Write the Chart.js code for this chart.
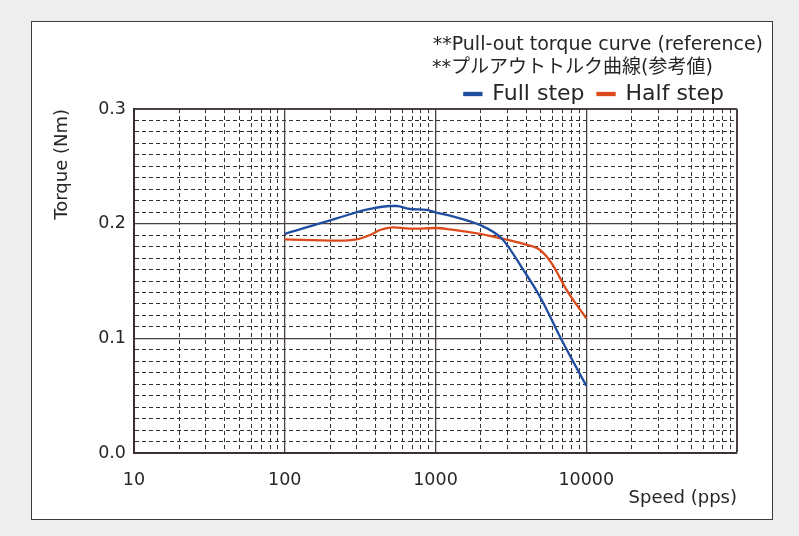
<!DOCTYPE html>
<html lang="ja">

<head>
    <meta charset="UTF-8">
    <title>Pull-out torque curve</title>
    <script src="https://cdn.jsdelivr.net/npm/chart.js"></script>
    <style>
        body {
            margin: 0;
            background: #eeeeee;
        }
        #frame {
            position: absolute;
            left: 31px;
            top: 21px;
            width: 740px;
            height: 497px;
            background: #ffffff;
            border: 1.5px solid #3c3c3c;
        }
        #myChart {
            position: absolute;
            left: 0;
            top: 0;
        }
    </style>
</head>

<body>

    <div id="frame"></div>
    <canvas id="myChart" width="799" height="536"></canvas>

    <script>
        // 讀圖估計的資料 (speed pps / torque Nm)
        const fullSpeed  = [100, 221, 368, 499, 552, 678, 875, 1000, 1248, 1973, 2750, 3827, 4934, 6871, 10000];
        const fullTorque = [0.191, 0.2047, 0.2128, 0.2154, 0.2154, 0.2128, 0.212, 0.2099, 0.207, 0.1988, 0.187, 0.1596, 0.1363, 0.0985, 0.0587];

        const halfSpeed  = [100, 221, 300, 368, 428, 525, 713, 1000, 1248, 1973, 2750, 3827, 4934, 5900, 7420, 10000];
        const halfTorque = [0.1863, 0.1852, 0.1863, 0.1901, 0.1945, 0.1968, 0.1956, 0.1962, 0.195, 0.191, 0.187, 0.1823, 0.177, 0.1654, 0.1421, 0.1174];

        const xLabelTicks = [10, 100, 1000, 10000];
        const yLabelTicks = [0, 0.1, 0.2, 0.3];

        const fontFamily = '"DejaVu Sans", "Noto Sans CJK JP", sans-serif';
        const textColor = '#262626';

        function toPoints(xs, ys) {
            return xs.map((x, i) => ({ x: x, y: ys[i] }));
        }

        // 格線：每個十進位的 1..9 倍
        function isPow10(v) {
            const l = Math.log10(v);
            return Math.abs(l - Math.round(l)) < 1e-9;
        }
        function isYMajor(v) {
            return Math.abs(v * 10 - Math.round(v * 10)) < 1e-9;
        }

        const ctx = document.getElementById('myChart').getContext('2d');

        const myChart = new Chart(ctx, {
            type: 'scatter',
            data: {
                datasets: [
                    {
                        label: 'Full step',
                        data: toPoints(fullSpeed, fullTorque),
                        showLine: true,
                        borderColor: '#1f4ea0',
                        backgroundColor: '#1f4ea0',
                        borderWidth: 2.3,
                        pointRadius: 0,
                        cubicInterpolationMode: 'monotone'
                    },
                    {
                        label: 'Half step',
                        data: toPoints(halfSpeed, halfTorque),
                        showLine: true,
                        borderColor: '#dc4a1c',
                        backgroundColor: '#dc4a1c',
                        borderWidth: 2.3,
                        pointRadius: 0,
                        cubicInterpolationMode: 'monotone'
                    }
                ]
            },
            options: {
                responsive: false,
                animation: false,
                layout: {
                    padding: { left: 40, right: 36, top: 33.5, bottom: 27 }
                },
                plugins: {
                    title: {
                        display: true,
                        align: 'end',
                        // 第二行後面補空白，讓兩行左邊對齊
                        text: ['**Pull-out torque curve (reference)', '**プルアウトトルク曲線(参考値)\u3000\u3000  '],
                        color: textColor,
                        font: { family: fontFamily, size: 19, weight: 'normal', lineHeight: 1.2 },
                        padding: { top: 0, bottom: -9.1 }
                    },
                    legend: {
                        display: true,
                        position: 'top',
                        align: 'end',
                        fullSize: false,
                        maxHeight: 39,
                        labels: {
                            color: textColor,
                            font: { family: fontFamily, size: 22 },
                            boxWidth: 17,
                            boxHeight: 2,
                            padding: 13
                        }
                    },
                    tooltip: { enabled: false }
                },
                scales: {
                    x: {
                        type: 'logarithmic',
                        min: 10,
                        max: 100000,
                        afterBuildTicks: (scale) => {
                            const t = [];
                            for (let d = 10; d < 100000; d *= 10) {
                                for (let k = 1; k < 10; k++) t.push({ value: d * k });
                            }
                            t.push({ value: 100000 });
                            scale.ticks = t;
                        },
                        afterFit: (scale) => { scale.height = 536 - 453 - 27; },
                        ticks: {
                            autoSkip: false,
                            maxRotation: 0,
                            padding: 17,
                            color: textColor,
                            font: { family: fontFamily, size: 17.5 },
                            callback: (v) => xLabelTicks.includes(v) ? String(v) : ''
                        },
                        grid: {
                            drawTicks: false,
                            color: (c) => (c.tick && isPow10(c.tick.value)) ? '#4a4040' : '#333333',
                            lineWidth: (c) => {
                                if (!c.tick) return 1;
                                if (c.tick.value >= 100000) return 2;
                                return isPow10(c.tick.value) ? 1.3 : 1;
                            }
                        },
                        border: {
                            display: true,
                            color: '#3a3030',
                            width: 2,
                            dash: (c) => (c.tick && !isPow10(c.tick.value)) ? [4, 3] : []
                        },
                        title: {
                            display: true,
                            align: 'end',
                            text: 'Speed (pps)',
                            color: textColor,
                            font: { family: fontFamily, size: 18 },
                            padding: { top: 0, bottom: 0 }
                        }
                    },
                    y: {
                        min: 0,
                        max: 0.3,
                        afterBuildTicks: (scale) => {
                            const t = [];
                            for (let i = 0; i <= 30; i++) t.push({ value: i / 100 });
                            scale.ticks = t;
                        },
                        afterFit: (scale) => { scale.width = 134 - 40; },
                        ticks: {
                            autoSkip: false,
                            padding: 8,
                            color: textColor,
                            font: { family: fontFamily, size: 17.5 },
                            callback: (v) => yLabelTicks.some(y => Math.abs(y - v) < 1e-9) ? v.toFixed(1) : ''
                        },
                        grid: {
                            drawTicks: false,
                            color: (c) => (c.tick && isYMajor(c.tick.value)) ? '#4a4040' : '#333333',
                            lineWidth: (c) => {
                                if (!c.tick) return 1;
                                if (c.tick.value >= 0.3 - 1e-9) return 2;
                                return isYMajor(c.tick.value) ? 1.3 : 1;
                            }
                        },
                        border: {
                            display: true,
                            color: '#3a3030',
                            width: 2,
                            dash: (c) => (c.tick && !isYMajor(c.tick.value)) ? [4, 3] : []
                        },
                        title: {
                            display: true,
                            align: 'end',
                            text: 'Torque (Nm)',
                            color: textColor,
                            font: { family: fontFamily, size: 18 },
                            padding: { top: 12, bottom: 0 }
                        }
                    },
                    y2: {
                        position: 'right',
                        display: true,
                        grid: { display: false },
                        border: { display: false },
                        ticks: { display: false },
                        afterFit: (scale) => { scale.width = 26; }
                    }
                }
            }
        });
    </script>

</body>

</html>
